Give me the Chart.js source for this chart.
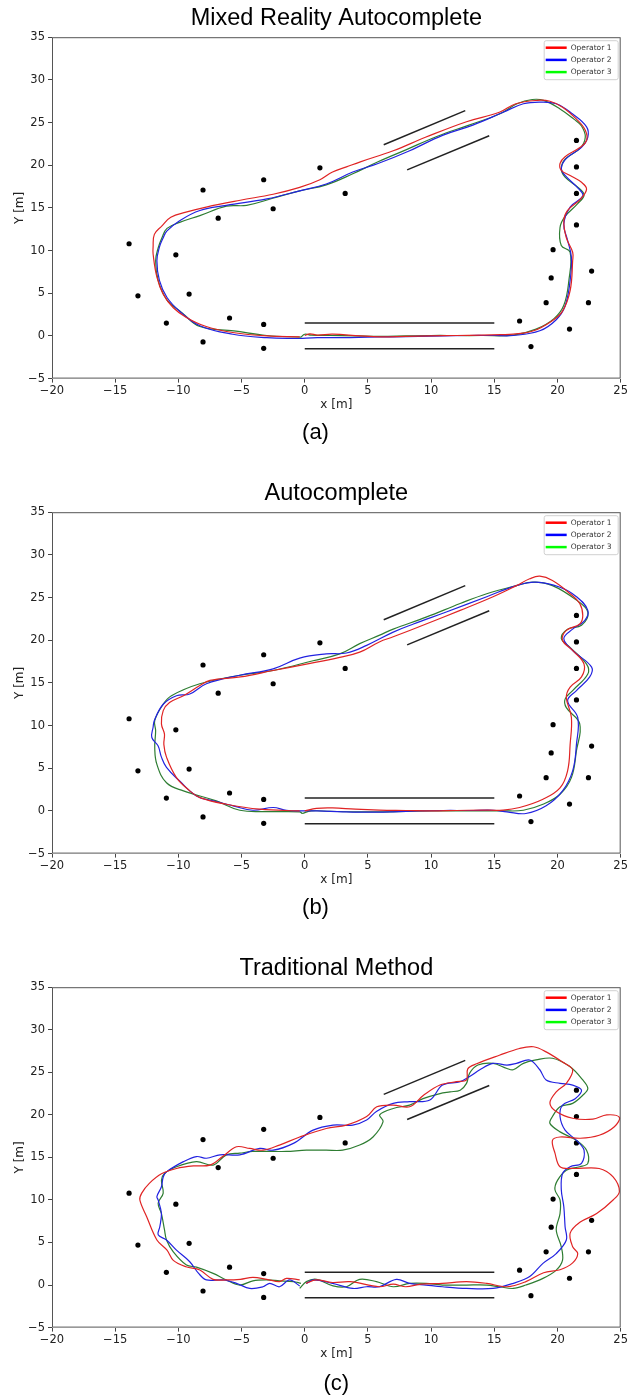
<!DOCTYPE html>
<html>
<head>
<meta charset="utf-8">
<script src="https://cdn.jsdelivr.net/npm/chart.js@4.4.1/dist/chart.umd.min.js"></script>
<style>
  body { margin: 0; background: #fff; }
  .panel { position: absolute; left: 0; width: 630px; }
</style>
</head>
<body>
<div class="panel" style="top:0;height:450px"><canvas id="chartA"></canvas></div>
<div class="panel" style="top:475px;height:450px"><canvas id="chartB"></canvas></div>
<div class="panel" style="top:950px;height:447px"><canvas id="chartC"></canvas></div>
<script>
// Labels
const operatorNames = ['Operator 1', 'Operator 2', 'Operator 3'];
const chartTitles = ['Mixed Reality Autocomplete', 'Autocomplete', 'Traditional Method'];
const captions = ['(a)', '(b)', '(c)'];

// Landmarks (black dots), same in every panel
const markerX = [-13.9, -13.2, -10.95, -10.2, -9.15, -8.05, -8.05, -6.85, -5.95, -3.25, -3.25, -3.25, -2.5, 1.2, 3.2,
                 17.0, 17.9, 19.1, 19.5, 19.65, 20.95, 21.5, 21.5, 21.5, 21.5, 22.45, 22.7];
const markerY = [10.8, 4.7, 1.5, 9.5, 4.9, 17.1, -0.7, 13.8, 2.1, 18.3, 1.35, -1.45, 14.9, 19.7, 16.7,
                 1.75, -1.25, 3.9, 6.8, 10.1, 0.8, 22.9, 19.8, 16.7, 13.0, 3.9, 7.6];

// Walls: [x1, y1, x2, y2]
const walls = [
  [0, 1.5, 15, 1.5],
  [0, -1.5, 15, -1.5],
  [6.25, 22.4, 12.7, 26.4],
  [8.1, 19.45, 14.6, 23.45]
];

// (a) Mixed Reality Autocomplete
const mrOp1 = [[0,0.05],[0.4,0.25],[1.0,0.1],[2.2,0.2],[4.4,0],[6,-0.1],[8,-0.05],[10,0],[12,0.05],[14,0.1],[15.5,0.15],[16.5,0.2],
  [18.1,0.6],[19.6,1.8],[20.4,2.9],[21.0,5.3],[21.2,8.8],[21.2,9.8],[20.7,11.5],[20.5,13.5],[20.8,14.7],[21.8,16.0],[22.3,17.2],
  [21.9,18.0],[21.0,18.8],[20.3,19.4],[20.2,20.2],[20.6,21.0],[21.8,22.1],[22.3,22.9],[22.2,24.1],[21.5,25.4],[20.4,26.8],[19.4,27.5],
  [18.4,27.6],[16.7,27.2],[15.4,26.2],[12.8,25.1],[9.6,23.3],[7.0,21.7],[4.4,20.4],[3.3,19.8],[2.2,19.2],[1.2,18.3],[-0.4,17.4],
  [-2.5,16.6],[-5.1,15.9],[-7.8,15.1],[-9.4,14.5],[-10.6,13.9],[-11.3,12.9],[-11.9,11.9],[-12.0,10.4],[-12.0,9.6],[-11.7,6.9],
  [-11.2,4.9],[-10.4,3.3],[-9.4,2.2],[-7.8,1.1],[-5.7,0.4],[-3.0,0.0],[-0.4,-0.1]];
const mrOp2 = [[-0.4,-0.3],[1,-0.2],[3,-0.2],[5,-0.15],[7,-0.1],[9,-0.05],[11,0],[13,0.05],[15,0.05],[16.5,0.05],[18.6,0.6],
  [19.9,1.9],[20.6,3.5],[21.0,6.5],[21.1,9.2],[20.8,11.2],[20.5,13.1],[21.0,15.1],[22.0,16.4],[21.7,17.2],[20.6,18.8],[20.3,19.6],
  [20.7,20.8],[21.9,22.1],[22.4,23.3],[22.3,24.5],[21.2,26.0],[19.9,27.2],[18.6,27.4],[17.3,27.2],[15.7,26.2],[13.3,24.7],[10.9,23.5],
  [8.3,21.7],[5.8,20.2],[3.8,19.2],[1.7,17.8],[-0.4,17.0],[-3.0,16.05],[-6.2,15.3],[-8.3,14.7],[-9.9,13.5],[-10.9,12.3],[-11.2,11.5],
  [-11.5,10.4],[-11.7,8.8],[-11.5,6.5],[-10.9,4.5],[-9.9,2.9],[-8.3,1.2],[-5.7,0.2],[-3.0,-0.2],[-0.4,-0.3]];
const mrOp3 = [[-0.3,-0.15],[0,0.2],[0.5,0.1],[2,0.05],[4,0],[6,-0.05],[8,0],[10,0.05],[12,0.05],[14,0.05],[16.5,0.1],[18.3,0.8],
  [19.7,2.0],[20.5,3.6],[20.9,6.5],[21.0,9.8],[20.3,10.6],[20.2,12.7],[20.6,14.0],[21.6,15.5],[22.1,16.5],[21.7,17.3],[20.6,18.6],
  [20.3,19.6],[20.6,20.7],[21.8,22.0],[22.2,23.3],[21.9,24.6],[21.3,25.4],[20.2,26.6],[18.9,27.6],[18.0,27.7],[16.8,27.2],[15.4,26.0],
  [13.0,24.7],[10.5,23.4],[8.0,21.8],[5.8,20.4],[3.8,19.0],[1.7,17.7],[-0.4,17.0],[-2.6,16.1],[-4.6,15.3],[-6.2,15.2],[-8.3,14.1],
  [-9.9,13.3],[-10.9,12.6],[-11.3,11.5],[-11.6,10.3],[-11.8,8.8],[-11.6,6.5],[-10.9,4.2],[-9.7,2.7],[-8.3,1.1],[-5.6,0.6],[-3,0.05],[-0.3,-0.15]];

// (b) Autocomplete
const acOp1 = [[0,0],[0.93,0.3],[2.2,0.35],[4,0.2],[5.9,0.1],[8,0.05],[10,0],[12,0.05],[14,0.1],[15.7,0.1],[17.0,0.4],[18.85,1.37],
  [20.2,2.7],[20.8,4.7],[21.0,7.8],[21.1,10.95],[20.7,13.3],[21.0,14.5],[21.9,15.7],[22.1,17.2],[21.2,18.8],[20.4,20.0],[20.7,21.15],
  [21.76,21.9],[22.0,22.9],[21.76,24.3],[21.0,25.45],[19.6,27.0],[18.6,27.5],[17.8,27.2],[16.75,26.4],[14.9,25.1],[12.3,23.5],[9.6,21.9],
  [7.0,20.4],[5.9,19.8],[4.35,18.6],[2.77,18.0],[0.13,17.2],[-2.5,16.45],[-5.1,15.7],[-7.5,15.3],[-8.3,14.7],[-9.6,13.5],[-10.7,12.7],
  [-11.2,11.75],[-11.34,10.2],[-11.1,9.0],[-11.15,7.8],[-10.94,6.3],[-10.15,3.9],[-9.1,2.35],[-8.3,1.56],[-6.2,0.78],[-3.56,0.2],[-0.4,0]];
const acOp2 = [[-0.13,0],[1,0],[3,-0.1],[5,-0.15],[7,-0.1],[9,0],[11,0.05],[13,0.05],[14.9,0.08],[16.0,-0.1],[17.5,-0.3],[19.1,0.6],
  [20.4,2.35],[21.2,4.7],[21.5,7.8],[21.6,10.95],[20.8,12.9],[21.5,14.1],[22.55,15.7],[22.7,16.85],[21.2,18.8],[20.5,20.2],[21.2,21.3],
  [22.15,22.3],[22.4,23.5],[21.5,25.1],[20.2,26.2],[18.3,26.8],[16.75,26.4],[14.4,25.1],[11.2,23.3],[8.6,21.9],[7.0,20.95],[4.9,19.4],
  [3.3,18.5],[1.7,18.4],[-0.4,17.9],[-2.5,16.65],[-5.14,15.9],[-7.78,14.9],[-9.1,13.7],[-10.15,13.5],[-11.2,12.5],[-11.9,10.6],
  [-12.0,9.8],[-12.1,8.6],[-11.6,7.6],[-11.34,6.3],[-10.94,5.1],[-9.9,3.5],[-8.57,1.76],[-7.25,1.17],[-5.67,0.6],[-4.1,0.08],
  [-2.5,0.4],[-1.45,0.08],[-0.13,0]];
const acOp3 = [[-0.2,-0.3],[0.5,0],[2,-0.05],[4,-0.1],[6,-0.1],[8,-0.05],[10,0],[12,0],[14,0],[15.7,0],[17.3,0.08],[18.85,0.78],
  [20.2,1.95],[21.1,3.9],[21.5,7.05],[21.76,10.2],[20.7,12.1],[20.6,13.1],[21.2,14.1],[22.4,16.05],[22.3,17.2],[20.97,19.2],[20.3,20.2],
  [20.8,21.3],[21.9,21.75],[22.4,23.3],[21.5,24.7],[19.6,26.4],[18.06,26.8],[16.75,26.4],[14.4,25.45],[12.3,24.3],[9.6,22.7],[7.0,21.3],
  [5.93,20.6],[4.35,19.6],[2.77,18.4],[0.66,17.6],[-2.5,16.45],[-5.14,15.9],[-8.3,14.9],[-10.55,13.5],[-11.2,12.5],[-11.87,10.6],
  [-11.8,9.4],[-11.87,7.4],[-11.7,5.45],[-10.94,3.3],[-9.6,2.35],[-7.0,1.17],[-5.14,0.08],[-3.03,-0.08],[-0.4,-0.1],[-0.2,-0.3]];

// (c) Traditional Method
const trOp1 = [[0.1,0.2],[0.9,0.6],[2.2,0.3],[3.6,0.4],[5.9,-0.2],[7,0.1],[8,-0.2],[9.2,0.1],[10.9,0.2],[12.8,0.4],[14.4,0.2],[16.0,-0.2],
  [17.5,0.4],[18.9,1.45],[20.2,1.8],[21.2,2.6],[21.6,3.7],[21.2,4.5],[21.0,6.1],[21.8,7.4],[23.1,8.4],[24.4,10.0],[24.9,11.0],[24.4,12.7],
  [23.3,13.7],[21.2,13.7],[20.2,13.9],[19.8,15.5],[19.6,17.0],[20.2,17.4],[21.8,17.25],[23.3,17.6],[24.5,18.6],[24.9,19.7],[23.9,20.0],
  [22.8,19.5],[21.2,19.6],[19.9,20.4],[19.4,21.4],[19.9,22.7],[20.7,23.7],[21.2,25.3],[20.4,26.2],[19.1,27.4],[18.1,28.0],[17.0,27.8],
  [15.4,27.0],[13.6,26.0],[12.9,25.4],[12.8,24.1],[12.0,23.9],[10.7,23.5],[9.4,22.3],[8.3,20.95],[7.0,21.15],[5.7,20.95],[4.9,19.8],
  [3.3,18.8],[1.7,18.4],[-0.4,17.4],[-2.0,16.45],[-3.3,15.85],[-4.35,16.05],[-5.4,16.25],[-6.5,15.1],[-7.5,14.1],[-8.8,14.0],
  [-10.15,13.7],[-11.3,13.1],[-12.3,11.95],[-12.9,10.8],[-13.05,10.0],[-12.5,8.0],[-11.7,5.3],[-10.9,4.1],[-10.4,2.9],[-9.4,2.15],
  [-8.3,1.76],[-7.25,0.67],[-6.2,0.6],[-5.1,0.67],[-4.1,0.9],[-3.0,0.67],[-2.0,0.4],[-1.45,0.78],[-0.4,0.6]];
const trOp2 = [[0.13,0.2],[0.66,0.6],[2.2,0.2],[3.8,-0.4],[4.9,-0.2],[5.9,-0.2],[7.25,0.67],[8.3,0.2],[9.6,0],[10.9,-0.2],[12.8,-0.4],
  [14.9,-0.4],[16.5,0.2],[17.8,1.0],[18.85,2.55],[19.9,3.7],[20.7,5.3],[20.6,6.85],[20.5,9.2],[20.3,11.2],[20.4,13.1],[21.0,13.9],
  [21.9,14.3],[22.1,15.85],[21.5,17.0],[20.6,18.2],[20.2,19.8],[20.4,21.15],[21.4,21.9],[21.9,22.9],[21.2,23.5],[20.2,23.7],[19.1,24.1],
  [18.6,25.3],[17.8,26.45],[16.75,26.05],[16.0,25.85],[14.9,26.05],[13.85,25.3],[13.05,24.5],[12.3,23.9],[10.9,23.5],[9.9,21.75],
  [8.3,21.55],[7.0,21.35],[5.67,20.4],[4.9,19.4],[3.8,18.8],[2.24,18.8],[0.66,18.2],[-0.9,16.65],[-2.5,15.85],[-3.56,16.05],
  [-5.14,15.3],[-6.7,15.3],[-7.78,14.9],[-8.57,15.1],[-9.6,14.5],[-10.94,13.3],[-11.2,12.7],[-11.34,11.55],[-11.7,10.4],[-11.6,10.0],
  [-11.34,8.4],[-11.47,6.85],[-11.6,5.9],[-10.94,5.3],[-10.15,4.1],[-9.1,2.74],[-8.4,1.37],[-7.78,0.6],[-6.46,0.6],[-5.4,0.2],
  [-4.35,-0.4],[-3.3,-0.2],[-2.77,0.2],[-2.0,-0.2],[-1.2,0.6],[-0.4,-0.1]];
const trOp3 = [[-0.4,-0.4],[0.13,0.4],[0.93,0.67],[2.24,-0.1],[3.3,-0.2],[4.35,0.67],[5.67,0.4],[7.0,-0.2],[8.3,0.2],[9.6,0.2],[10.9,0],
  [12.8,0],[14.4,0],[15.4,-0.2],[16.5,-0.4],[17.5,0],[18.85,0.78],[19.9,1.76],[20.4,2.94],[20.3,4.5],[19.9,6.5],[20.2,8.4],[20.2,10.0],
  [19.8,11.2],[20.0,12.3],[20.7,13.5],[21.76,13.9],[22.4,14.3],[22.3,15.85],[21.5,17.0],[20.2,18.0],[19.4,19.0],[19.6,19.8],[20.2,20.95],
  [21.2,21.35],[22.0,22.3],[22.4,23.1],[22.0,24.1],[21.0,25.65],[19.6,26.65],[18.3,26.45],[17.3,26.05],[16.5,25.3],[16.0,25.45],
  [14.9,26.05],[13.7,25.85],[13.05,24.9],[12.8,23.7],[12.3,22.9],[11.5,22.7],[10.7,22.5],[9.36,21.9],[8.3,21.15],[7.0,20.75],
  [5.93,20.0],[6.2,19.2],[5.4,17.4],[4.35,16.45],[3.0,15.85],[1.7,15.85],[0.13,15.85],[-1.45,15.7],[-2.5,15.7],[-4.1,15.7],
  [-5.14,15.5],[-6.2,15.3],[-7.25,14.1],[-8.57,14.5],[-10.15,13.9],[-11.1,13.1],[-11.34,12.3],[-11.2,10.8],[-11.6,9.6],[-11.34,8.4],
  [-11.1,6.5],[-10.94,5.3],[-10.4,3.9],[-9.36,2.35],[-8.57,2.1],[-7.25,1.37],[-6.2,0.6],[-5.14,0],[-4.1,0.5],[-3.03,0.6],
  [-2.0,0.5],[-0.9,0.4],[-0.3,0.2]];

const lineColors = ['#e02424', '#2222e0', '#2e7d32'];
const legendColors = ['#ff0000', '#0000ff', '#00ff00'];

const toPoints = arr => arr.map(p => ({ x: p[0], y: p[1] }));
const minusFmt = v => (v < 0 ? '\u2212' + Math.abs(v) : '' + v);

// box around the axes + legend in the upper right corner
const frameLegend = {
  id: 'frameLegend',
  afterDraw(chart) {
    const { ctx, chartArea: a } = chart;
    ctx.save();
    ctx.strokeStyle = '#555';
    ctx.lineWidth = 1;
    ctx.strokeRect(a.left + 0.5, a.top + 0.5, a.right - a.left - 1, a.bottom - a.top - 1);

    const x0 = a.right - 77, y0 = a.top + 3;
    ctx.fillStyle = 'rgba(255,255,255,0.85)';
    ctx.strokeStyle = '#d0d0d0';
    ctx.beginPath();
    ctx.roundRect(x0 + 0.5, y0 + 0.5, 74, 39, 2);
    ctx.fill();
    ctx.stroke();
    ctx.font = '7.5px "DejaVu Sans"';
    ctx.textBaseline = 'middle';
    operatorNames.forEach((name, i) => {
      const y = y0 + 7.5 + i * 12.2;
      ctx.strokeStyle = legendColors[i];
      ctx.lineWidth = 2.5;
      ctx.beginPath();
      ctx.moveTo(x0 + 2, y);
      ctx.lineTo(x0 + 23, y);
      ctx.stroke();
      ctx.fillStyle = '#333';
      ctx.fillText(name, x0 + 27, y);
    });
    ctx.restore();
  }
};

function makeChart(canvasId, idx, ops, capPad, capFull) {
  const datasets = [];
  ops.forEach((op, i) => {
    datasets.push({
      label: operatorNames[i],
      data: toPoints(op),
      showLine: true,
      borderColor: lineColors[i],
      borderWidth: 1.2,
      pointRadius: 0,
      tension: idx === 2 ? 0.35 : 0.4,
      fill: false
    });
  });
  walls.forEach(w => {
    datasets.push({
      label: 'wall',
      data: [{ x: w[0], y: w[1] }, { x: w[2], y: w[3] }],
      showLine: true,
      borderColor: '#222',
      borderWidth: 1.5,
      pointRadius: 0
    });
  });
  datasets.push({
    label: 'landmarks',
    data: markerX.map((x, i) => ({ x: x, y: markerY[i] })),
    showLine: false,
    pointRadius: 2.6,
    pointBackgroundColor: '#000',
    pointBorderWidth: 0
  });

  return new Chart(document.getElementById(canvasId), {
    type: 'scatter',
    data: { datasets: datasets },
    options: {
      responsive: true,
      maintainAspectRatio: false,
      animation: false,
      events: [],
      layout: { padding: { left: 10, right: 9, top: 0, bottom: 0 } },
      scales: {
        x: {
          type: 'linear',
          min: -20, max: 25,
          border: { display: false },
          grid: { drawOnChartArea: false, drawTicks: true, tickLength: 4, color: '#444' },
          ticks: { stepSize: 5, padding: 2, color: '#222', font: { family: 'DejaVu Sans', size: 11.5 }, callback: minusFmt, maxRotation: 0 },
          title: { display: true, text: 'x [m]', color: '#222', font: { family: 'DejaVu Sans', size: 12 }, padding: { top: 0, bottom: 0 } },
          afterFit(scale) { scale.height = 33; }
        },
        y: {
          type: 'linear',
          min: -5, max: 35,
          border: { display: false },
          grid: { drawOnChartArea: false, drawTicks: true, tickLength: 4, color: '#444' },
          ticks: { stepSize: 5, padding: 3, color: '#222', font: { family: 'DejaVu Sans', size: 11.5 }, callback: minusFmt },
          title: { display: true, text: 'Y [m]', color: '#222', font: { family: 'DejaVu Sans', size: 12 }, padding: { top: 3, bottom: 0 } },
          afterFit(scale) { scale.width = 42; }
        }
      },
      plugins: {
        legend: { display: false },
        tooltip: { enabled: false },
        title: {
          display: true,
          text: chartTitles[idx],
          fullSize: false,
          color: '#000',
          font: { family: 'Liberation Sans', size: 23.5, weight: 'normal' },
          padding: { top: 4, bottom: 5 }
        },
        subtitle: {
          display: true,
          position: 'bottom',
          text: captions[idx],
          fullSize: capFull,
          color: '#000',
          font: { family: 'Liberation Sans', size: 22, weight: 'normal' },
          padding: capPad
        }
      }
    },
    plugins: [frameLegend]
  });
}

makeChart('chartA', 0, [mrOp1, mrOp2, mrOp3], { top: 8, bottom: 4 }, true);
makeChart('chartB', 1, [acOp1, acOp2, acOp3], { top: 8, bottom: 4 }, true);
makeChart('chartC', 2, [trOp1, trOp2, trOp3], { top: 10, bottom: 0 }, false);
</script>
</body>
</html>
